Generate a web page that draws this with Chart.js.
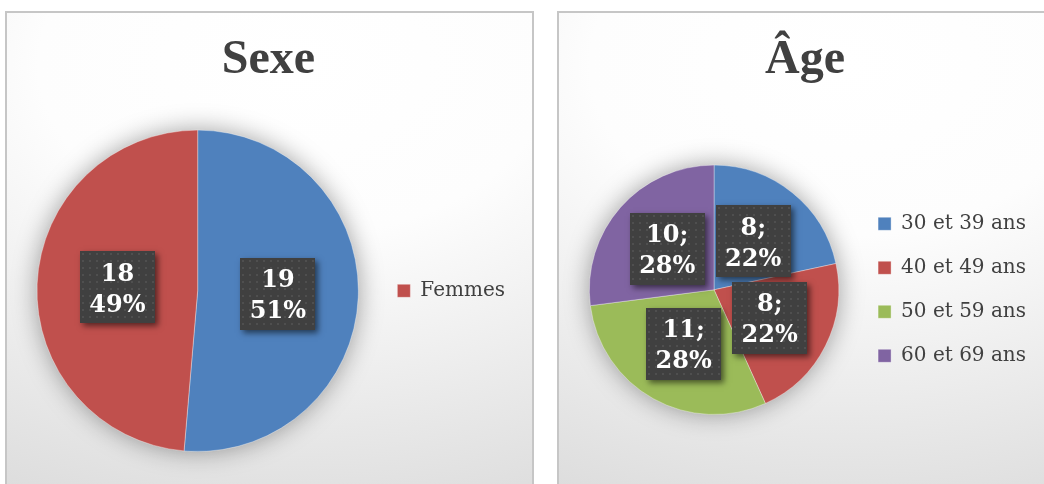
<!DOCTYPE html>
<html>
<head>
<meta charset="utf-8">
<script src="https://cdn.jsdelivr.net/npm/chart.js@4.4.1/dist/chart.umd.min.js"></script>
<style>
  html, body { margin: 0; padding: 0; width: 1044px; height: 484px; overflow: hidden; background: #ffffff; }
  .panel {
    position: absolute;
    top: 11px;
    height: 520px;
    box-sizing: border-box;
    border: 2px solid #c6c6c6;
    background: radial-gradient(ellipse 140% 95% at 55% 10%, #ffffff 0%, #fdfdfd 35%, #dadada 100%);
  }
  canvas { position: absolute; }
</style>
</head>
<body>
<div class="panel" style="left:5px; width:529px;"></div>
<div class="panel" style="left:557px; width:520px;"></div>
<canvas id="sexeChart" width="527" height="473" style="left:6px; top:11px;"></canvas>
<canvas id="ageChart" width="498" height="473" style="left:558px; top:11px;"></canvas>
<script>
const sexeLabels = ['Hommes', 'Femmes'];
const sexeValues = [19, 18];
const sexePercents = ['51%', '49%'];

const ageLabels = ['30 et 39 ans', '40 et 49 ans', '50 et 59 ans', '60 et 69 ans'];
const ageValues = [8, 8, 11, 10];
const agePercents = ['22%', '22%', '28%', '28%'];

const sliceColors = ['#4f81bd', '#c0504d', '#9bbb59', '#8064a2'];
const textColor = '#404040';

// small dotted texture for the label boxes
function makeDotPattern(ctx) {
  const c = document.createElement('canvas');
  c.width = 7; c.height = 7;
  const p = c.getContext('2d');
  p.fillStyle = '#404040';
  p.fillRect(0, 0, 7, 7);
  p.fillStyle = '#4f4f4f';
  p.fillRect(2, 2, 2, 2);
  return ctx.createPattern(c, 'repeat');
}

// soft shadow behind the whole pie
const pieShadow = {
  id: 'pieShadow',
  beforeDatasetsDraw(chart) {
    const arc = chart.getDatasetMeta(0).data[0];
    if (!arc) return;
    const ctx = chart.ctx;
    ctx.save();
    ctx.shadowColor = 'rgba(0,0,0,0.4)';
    ctx.shadowBlur = 26;
    ctx.fillStyle = '#cccccc';
    ctx.beginPath();
    ctx.arc(arc.x, arc.y, arc.outerRadius - 1, 0, Math.PI * 2);
    ctx.fill();
    ctx.restore();
  }
};

// dark boxed data labels, value on the first line and percentage below
const boxLabels = {
  id: 'boxLabels',
  afterDatasetsDraw(chart, args, opts) {
    const ctx = chart.ctx;
    const meta = chart.getDatasetMeta(0);
    const values = chart.data.datasets[0].data;
    const pattern = makeDotPattern(ctx);
    meta.data.forEach(function(arc, i) {
      const pos = arc.tooltipPosition();
      const w = 75, h = 72;
      const x = Math.round(pos.x - w / 2), y = Math.round(pos.y - h / 2);
      ctx.save();
      ctx.shadowColor = 'rgba(0,0,0,0.55)';
      ctx.shadowBlur = 6;
      ctx.shadowOffsetX = 3;
      ctx.shadowOffsetY = 3;
      ctx.fillStyle = '#404040';
      ctx.fillRect(x, y, w, h);
      ctx.restore();
      ctx.save();
      ctx.translate(x, y);
      ctx.fillStyle = pattern;
      ctx.fillRect(0, 0, w, h);
      ctx.restore();
      ctx.save();
      ctx.fillStyle = '#ffffff';
      ctx.font = 'bold 24px "DejaVu Serif"';
      ctx.textAlign = 'center';
      ctx.textBaseline = 'middle';
      ctx.fillText(values[i] + opts.sep, pos.x, pos.y - 13);
      ctx.fillText(opts.percents[i], pos.x, pos.y + 18);
      ctx.restore();
    });
  }
};

new Chart(document.getElementById('sexeChart'), {
  type: 'pie',
  data: {
    labels: sexeLabels,
    datasets: [{
      data: sexeValues,
      backgroundColor: sliceColors.slice(0, 2),
      borderColor: 'rgba(255,255,255,0.35)',
      borderWidth: 1
    }]
  },
  options: {
    responsive: false,
    animation: false,
    layout: { padding: { left: 16, right: 18, top: 0, bottom: 32 } },
    plugins: {
      title: {
        display: true,
        text: 'Sexe',
        color: textColor,
        font: { family: 'Liberation Serif', size: 48, weight: 'bold' },
        padding: { top: 21, bottom: 40 }
      },
      legend: {
        position: 'right',
        fullSize: false,
        labels: {
          boxWidth: 13,
          boxHeight: 13,
          padding: 24,
          color: textColor,
          font: { family: 'DejaVu Serif', size: 20 },
          filter: function(item) { return item.index > 0; }
        }
      },
      tooltip: { enabled: false },
      boxLabels: { sep: '', percents: sexePercents }
    }
  },
  plugins: [pieShadow, boxLabels]
});

new Chart(document.getElementById('ageChart'), {
  type: 'pie',
  data: {
    labels: ageLabels,
    datasets: [{
      data: ageValues,
      backgroundColor: sliceColors,
      borderColor: 'rgba(255,255,255,0.35)',
      borderWidth: 1
    }]
  },
  options: {
    responsive: false,
    animation: false,
    layout: { padding: { left: 16, right: 20, top: 0, bottom: 69 } },
    plugins: {
      title: {
        display: true,
        text: 'Âge',
        color: textColor,
        font: { family: 'Liberation Serif', size: 48, weight: 'bold' },
        padding: { top: 21, bottom: 75 }
      },
      legend: {
        position: 'right',
        fullSize: false,
        labels: {
          boxWidth: 13,
          boxHeight: 13,
          padding: 24,
          color: textColor,
          font: { family: 'DejaVu Serif', size: 20 }
        }
      },
      tooltip: { enabled: false },
      boxLabels: { sep: ';', percents: agePercents }
    }
  },
  plugins: [pieShadow, boxLabels]
});
</script>
</body>
</html>
